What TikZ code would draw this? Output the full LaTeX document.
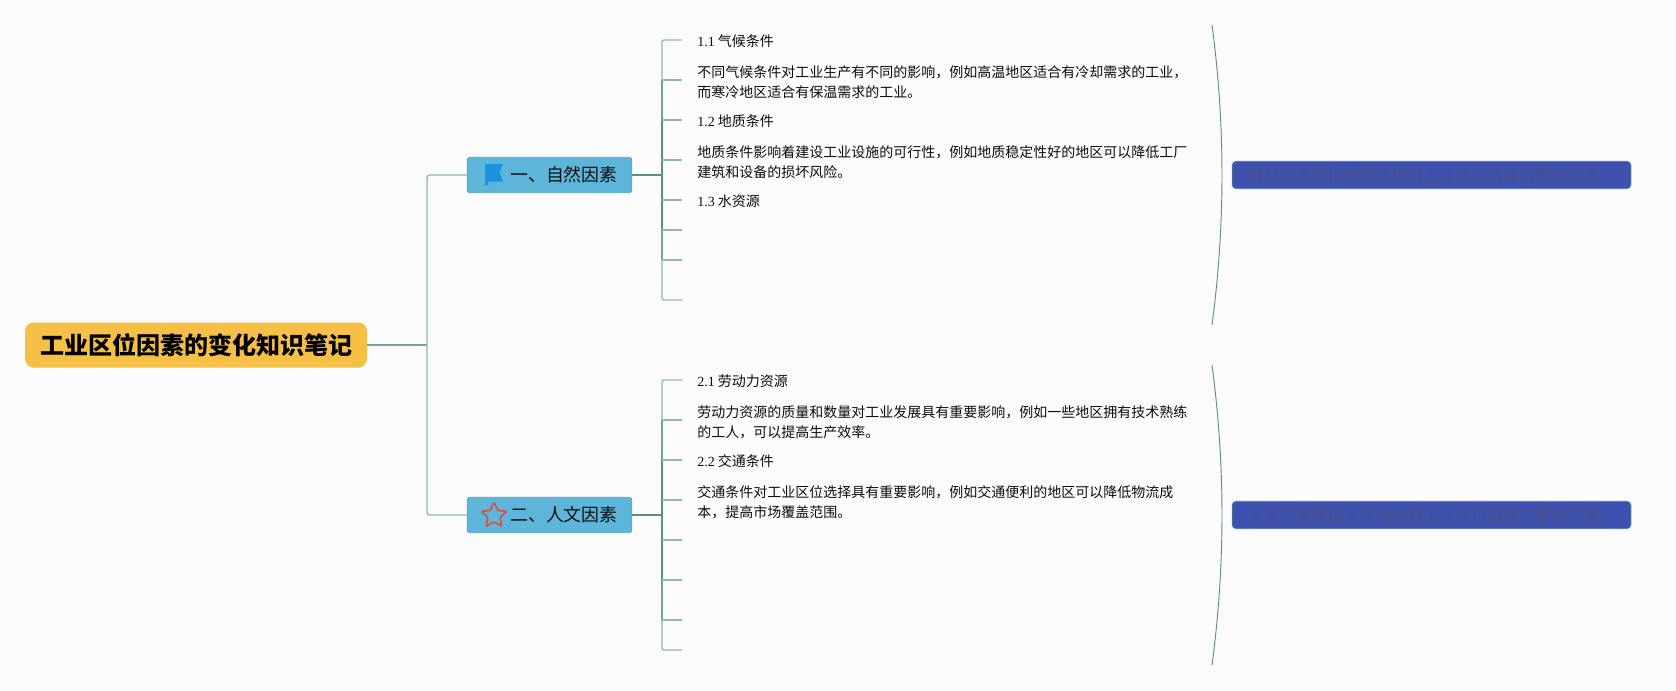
\documentclass[tikz,border=0pt]{standalone}
\usepackage{fontspec}
\setmainfont{Liberation Serif}
\newfontfamily\cjk{Noto Sans CJK SC}
\usetikzlibrary{shapes.geometric}
\definecolor{bg}{HTML}{FBFBFB}
\definecolor{lightln}{HTML}{8DB9AD}
\definecolor{midln}{HTML}{72A596}
\definecolor{darkln}{HTML}{5A9282}
\definecolor{rootfill}{HTML}{F6C046}
\definecolor{branchfill}{HTML}{5DB6DA}
\definecolor{branchedge}{HTML}{55A6BF}
\definecolor{sumfill}{HTML}{3F51B0}
\definecolor{sumedge}{HTML}{4B7F9C}
\definecolor{sumtext}{HTML}{4A4F86}
\definecolor{flagblue}{HTML}{1A94E0}
\definecolor{starred}{HTML}{D5524C}
\newcommand{\num}[1]{{\rmfamily #1}}
\tikzset{
  x=0.75pt,y=-0.75pt,
  rootbox/.style={fill=rootfill,rounded corners=6.5pt,minimum width=256.5pt,minimum height=33.75pt,inner sep=0,font=\cjk\bfseries\fontsize{18}{20}\selectfont,text=black},
  branchbox/.style={fill=branchfill,draw=branchedge,line width=0.6pt,rounded corners=2pt,minimum width=123.5pt,minimum height=26.5pt,inner sep=0},
  branchtext/.style={anchor=west,inner sep=0,font=\cjk\fontsize{13.4}{16}\selectfont,text=black!95},
  sumbox/.style={fill=sumfill,draw=sumedge,line width=0.6pt,rounded corners=3pt,minimum width=299pt,minimum height=20.5pt,inner sep=0,font=\cjk\fontsize{12}{14}\selectfont,text=sumtext},
  itemtext/.style={anchor=west,inner sep=0,align=left,font=\cjk\fontsize{10.5}{15}\selectfont,text=black!95},
  lite/.style={draw=lightln,line width=1pt},
  mid/.style={draw=midln,line width=1.1pt},
  dark/.style={draw=darkln,line width=1.2pt},
  arcline/.style={draw=darkln,line width=0.7pt},
}
\begin{document}
\begin{tikzpicture}
\fill[bg] (0,0) rectangle (1676,690);
\useasboundingbox (0,0) rectangle (1676,690);

% main nodes
\node[rootbox] (root) at (196,345) {工业区位因素的变化知识笔记};
\node[branchbox] (b1) at (549.5,175) {};
\node[branchbox] (b2) at (549.5,515) {};
\node[branchtext] (b1t) at (510,175) {一、自然因素};
\node[branchtext] (b2t) at (510,515) {二、人文因素};
\node[sumbox] (s1) at (1431.5,175) {自然因素是指地理环境对工业区位选择的影响因素。};
\node[sumbox] (s2) at (1431.5,515) {人文因素是指人类活动对工业区位选择的影响因素。};

% icons
\fill[flagblue] (485,164) -- (503,164) -- (499.5,172.5) -- (503,181.5) -- (488,181.5) -- (488,185) -- (485,185) -- cycle;
\node[star,star points=5,star point ratio=2.1,draw=starred,line width=1.3pt,fill=none,minimum size=20pt,inner sep=0,rounded corners=0.8pt] (st) at (494,515.5) {};

% item text
\node[itemtext] (t11) at (697,41) {\num{1.1} 气候条件};
\node[itemtext] (p11) at (697,82) {不同气候条件对工业生产有不同的影响，例如高温地区适合有冷却需求的工业，\\而寒冷地区适合有保温需求的工业。};
\node[itemtext] (t12) at (697,121) {\num{1.2} 地质条件};
\node[itemtext] (p12) at (697,162) {地质条件影响着建设工业设施的可行性，例如地质稳定性好的地区可以降低工厂\\建筑和设备的损坏风险。};
\node[itemtext] (t13) at (697,201) {\num{1.3} 水资源};
\node[itemtext] (t21) at (697,381) {\num{2.1} 劳动力资源};
\node[itemtext] (p21) at (697,422) {劳动力资源的质量和数量对工业发展具有重要影响，例如一些地区拥有技术熟练\\的工人，可以提高生产效率。};
\node[itemtext] (t22) at (697,461) {\num{2.2} 交通条件};
\node[itemtext] (p22) at (697,502) {交通条件对工业区位选择具有重要影响，例如交通便利的地区可以降低物流成\\本，提高市场覆盖范围。};

% junctions
\coordinate (j0) at (427,345);
\coordinate (ja) at (427,175);
\coordinate (jb) at (427,515);
\coordinate (k1) at (662,175);
\coordinate (k2) at (662,515);

% root to branches
\draw[mid] (root.east) -- (j0);
\draw[lite,rounded corners=2pt] (j0) -- (ja) -- (b1.west);
\draw[lite,rounded corners=2pt] (j0) -- (jb) -- (b2.west);
\draw[dark] (b1.east) -- (k1);
\draw[dark] (b2.east) -- (k2);

% twigs, first group
\foreach \n/\yy in {a/40,b/80,c/120,d/160,e/200,f/230,g/260,h/300}{
  \coordinate (u\n) at (662,\yy);
  \coordinate (v\n) at (682,\yy);
}
\draw[lite,rounded corners=1.5pt] (va) -- (ua) -- (ub);
\draw[mid] (ub) -- (uc);
\draw[dark] (uc) -- (ud) -- (ue) -- (uf);
\draw[mid] (uf) -- (ug);
\draw[lite,rounded corners=1.5pt] (ug) -- (uh) -- (vh);
\foreach \n in {b,c,d,e,f,g}{\draw[lite] (u\n) -- (v\n);}

% twigs, second group
\foreach \n/\yy in {a/380,b/420,c/460,d/500,e/540,f/580,g/620,h/650}{
  \coordinate (w\n) at (662,\yy);
  \coordinate (z\n) at (682,\yy);
}
\draw[lite,rounded corners=1.5pt] (za) -- (wa) -- (wb);
\draw[mid] (wb) -- (wc);
\draw[dark] (wc) -- (wd) -- (we) -- (wf);
\draw[mid] (wf) -- (wg);
\draw[lite,rounded corners=1.5pt] (wg) -- (wh) -- (zh);
\foreach \n in {b,c,d,e,f,g}{\draw[lite] (w\n) -- (z\n);}

% summary arcs
\coordinate (a1) at (1212,25);
\coordinate (a2) at (1212,325);
\coordinate (a3) at (1212,365);
\coordinate (a4) at (1212,665);
\draw[arcline] (a1) .. controls (1225.3,125) and (1225.3,225) .. (a2);
\draw[arcline] (a3) .. controls (1225.3,465) and (1225.3,565) .. (a4);
\end{tikzpicture}
\end{document}
